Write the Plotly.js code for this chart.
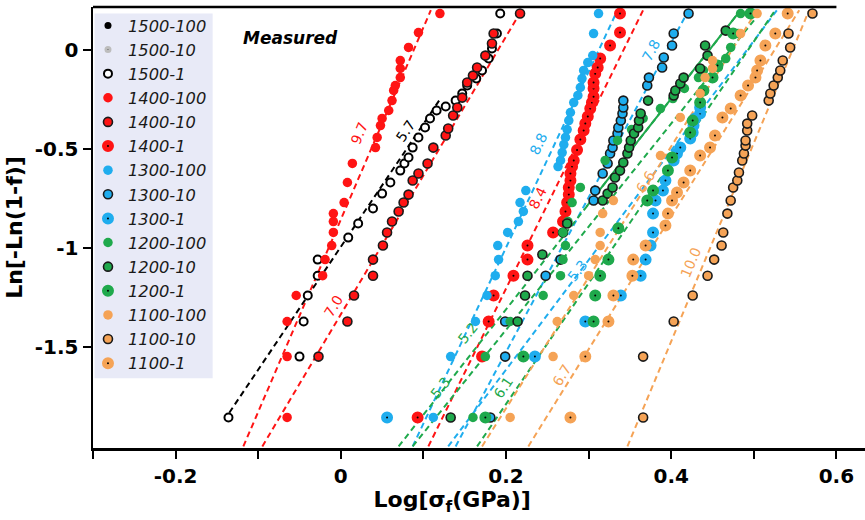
<!DOCTYPE html>
<html><head><meta charset="utf-8">
<script src="https://cdn.plot.ly/plotly-3.0.1.min.js"></script>
<style>body{margin:0;background:#fff}#chart{width:865px;height:520px}</style>
</head><body><div id="chart"></div>
<script>
// ---------------- data ----------------
const seriesNames = ['1500-100','1500-10','1500-1','1400-100','1400-10','1400-1','1300-100','1300-10','1300-1','1200-100','1200-10','1200-1','1100-100','1100-10','1100-1'];

// no visible points for these two series in the figure (legend entries only)
const x_1500_100 = [null];
const y_1500_100 = [null];
const x_1500_10 = [null];
const y_1500_10 = [null];
const x_1500_1 = [-0.136,-0.050,-0.045,-0.040,-0.028,-0.028,0.009,0.021,0.039,0.050,0.060,0.072,0.077,0.082,0.087,0.094,0.102,0.108,0.116,0.127,0.139,0.147,0.153,0.164,0.171,0.179,0.183,0.189,0.193];
const y_1500_1 = [-1.854,-1.547,-1.370,-1.239,-1.139,-1.058,-0.947,-0.876,-0.800,-0.725,-0.669,-0.609,-0.573,-0.543,-0.493,-0.442,-0.392,-0.346,-0.306,-0.286,-0.256,-0.220,-0.180,-0.145,-0.104,-0.044,0.007,0.082,0.183];
const x_1400_100 = [-0.065,-0.065,-0.065,-0.054,-0.022,-0.019,-0.011,-0.009,-0.009,-0.009,0.004,0.008,0.014,0.042,0.044,0.048,0.050,0.058,0.062,0.064,0.066,0.072,0.072,0.072,0.082,0.094,0.120];
const y_1400_100 = [-1.854,-1.547,-1.370,-1.239,-1.139,-1.058,-0.987,-0.921,-0.866,-0.826,-0.770,-0.669,-0.573,-0.493,-0.442,-0.382,-0.346,-0.306,-0.256,-0.205,-0.180,-0.140,-0.094,-0.054,0.012,0.087,0.183];
const x_1400_10 = [-0.027,0.008,0.016,0.039,0.039,0.051,0.056,0.062,0.070,0.076,0.082,0.087,0.094,0.105,0.112,0.127,0.130,0.136,0.141,0.147,0.153,0.160,0.165,0.175,0.183,0.185,0.217];
const y_1400_10 = [-1.547,-1.370,-1.239,-1.139,-1.058,-0.987,-0.921,-0.866,-0.815,-0.770,-0.730,-0.659,-0.624,-0.573,-0.493,-0.432,-0.397,-0.331,-0.291,-0.241,-0.165,-0.130,-0.089,-0.029,0.032,0.082,0.183];
const x_1400_1 = [0.093,0.171,0.179,0.185,0.209,0.226,0.226,0.257,0.269,0.272,0.274,0.276,0.276,0.278,0.278,0.280,0.282,0.286,0.290,0.294,0.296,0.299,0.302,0.304,0.306,0.306,0.306,0.308,0.311,0.314,0.326,0.338,0.338];
const y_1400_1 = [-1.854,-1.547,-1.370,-1.239,-1.139,-1.058,-0.987,-0.921,-0.866,-0.815,-0.770,-0.730,-0.694,-0.659,-0.624,-0.589,-0.558,-0.505,-0.452,-0.407,-0.372,-0.336,-0.296,-0.266,-0.236,-0.195,-0.165,-0.120,-0.089,-0.044,0.022,0.087,0.183];
const x_1300_100 = [0.112,0.133,0.163,0.177,0.187,0.191,0.190,0.202,0.215,0.221,0.217,0.224,0.263,0.266,0.268,0.270,0.272,0.274,0.276,0.278,0.282,0.287,0.290,0.292,0.294,0.299,0.305,0.306,0.312];
const y_1300_100 = [-1.854,-1.547,-1.370,-1.239,-1.139,-1.058,-0.987,-0.921,-0.866,-0.815,-0.770,-0.710,-0.589,-0.558,-0.518,-0.478,-0.442,-0.402,-0.357,-0.316,-0.266,-0.230,-0.190,-0.145,-0.104,-0.064,-0.029,0.082,0.183];
const x_1300_10 = [0.181,0.199,0.199,0.248,0.266,0.269,0.306,0.308,0.317,0.323,0.326,0.329,0.330,0.335,0.336,0.339,0.341,0.342,0.342,0.371,0.373,0.389,0.391,0.401,0.403,0.421];
const y_1300_10 = [-1.854,-1.547,-1.370,-1.139,-1.058,-0.921,-0.760,-0.710,-0.624,-0.573,-0.523,-0.493,-0.457,-0.422,-0.392,-0.357,-0.321,-0.291,-0.256,-0.180,-0.140,-0.089,-0.039,0.022,0.082,0.183];
const x_1300_1 = [0.056,0.235,0.296,0.339,0.363,0.369,0.375,0.378,0.378,0.381,0.390,0.393,0.403,0.407,0.411,0.423,0.426,0.427,0.429,0.435,0.435];
const y_1300_1 = [-1.854,-1.547,-1.370,-1.239,-1.139,-1.058,-0.987,-0.921,-0.826,-0.760,-0.710,-0.659,-0.558,-0.523,-0.493,-0.447,-0.417,-0.382,-0.346,-0.321,-0.291];
const x_1200_100 = [0.160,0.175,0.205,0.245,0.266,0.269,0.272,0.269,0.275,0.280,0.290,0.320,0.335,0.352,0.366,0.387,0.402,0.416,0.433,0.439,0.457,0.466,0.472,0.481,0.484];
const y_1200_100 = [-1.854,-1.547,-1.370,-1.239,-1.139,-1.058,-0.987,-0.921,-0.866,-0.770,-0.694,-0.558,-0.457,-0.402,-0.346,-0.296,-0.246,-0.195,-0.140,-0.104,-0.089,-0.044,0.012,0.082,0.183];
const x_1200_10 = [0.133,0.214,0.223,0.226,0.244,0.274,0.317,0.323,0.329,0.332,0.338,0.342,0.347,0.349,0.351,0.355,0.360,0.361,0.363,0.372,0.403,0.405,0.411,0.415,0.435,0.444,0.441,0.466];
const y_1200_10 = [-1.854,-1.370,-1.239,-1.139,-1.032,-0.876,-0.760,-0.725,-0.694,-0.644,-0.609,-0.568,-0.523,-0.493,-0.457,-0.422,-0.392,-0.357,-0.321,-0.256,-0.230,-0.205,-0.170,-0.140,-0.094,-0.029,0.022,0.097];
const x_1200_1 = [0.175,0.221,0.306,0.308,0.314,0.324,0.336,0.371,0.378,0.396,0.401,0.423,0.426,0.435,0.439,0.450,0.456,0.475,0.496];
const y_1200_1 = [-1.854,-1.547,-1.370,-1.239,-1.139,-1.058,-0.900,-0.760,-0.710,-0.609,-0.543,-0.417,-0.357,-0.266,-0.205,-0.140,-0.079,0.082,0.183];
const x_1100_100 = [0.205,0.257,0.262,0.282,0.300,0.308,0.314,0.314,0.317,0.330,0.387,0.411,0.435,0.441,0.450,0.450,0.484,0.504];
const y_1100_100 = [-1.854,-1.547,-1.370,-1.239,-1.139,-1.058,-0.987,-0.921,-0.826,-0.760,-0.533,-0.341,-0.220,-0.140,-0.094,-0.054,0.082,0.183];
const x_1100_10 = [0.366,0.366,0.403,0.426,0.444,0.452,0.461,0.463,0.468,0.472,0.475,0.480,0.482,0.486,0.488,0.490,0.490,0.492,0.492,0.498,0.518,0.520,0.524,0.529,0.532,0.535,0.544,0.542,0.571];
const y_1100_10 = [-1.854,-1.547,-1.370,-1.239,-1.139,-1.058,-0.987,-0.921,-0.826,-0.760,-0.694,-0.659,-0.619,-0.558,-0.523,-0.483,-0.457,-0.407,-0.372,-0.331,-0.256,-0.220,-0.180,-0.140,-0.104,-0.054,0.012,0.082,0.183];
const x_1100_1 = [0.278,0.296,0.324,0.330,0.353,0.354,0.369,0.393,0.396,0.401,0.407,0.415,0.423,0.435,0.447,0.453,0.462,0.472,0.484,0.493,0.502,0.504,0.508,0.514,0.526,0.541];
const y_1100_1 = [-1.854,-1.547,-1.370,-1.239,-1.139,-1.058,-0.987,-0.886,-0.826,-0.760,-0.720,-0.669,-0.609,-0.533,-0.493,-0.432,-0.341,-0.296,-0.230,-0.180,-0.140,-0.104,-0.054,0.022,0.082,0.183];

// Weibull fit lines: label (modulus), endpoints
const fitLabels = ['9.7','7.0','8.4','5.7','8.8','7.8','5.3','5.3','5.2','6.1','6.6','6.7','10.0'];
const fitX0 = [-0.118,-0.095,0.106,-0.135,0.087,0.139,0.130,0.070,0.087,0.165,0.171,0.227,0.347];
const fitY0 = [-2.0,-2.0,-2.0,-1.83,-2.0,-2.0,-2.0,-2.0,-2.0,-2.0,-2.0,-2.0,-2.0];
const fitX1 = [0.109,0.219,0.366,0.120,0.335,0.421,0.528,0.484,0.510,0.526,0.504,0.555,0.567];
const fitY1 = [0.2,0.2,0.2,-0.25,0.2,0.2,0.2,0.2,0.2,0.2,0.2,0.2,0.2];
// label anchor positions on the lines
const labelX = [0.0215,-0.009,0.238,0.078,0.239,0.375,0.286,0.120,0.154,0.196,0.369,0.268,0.423];
const labelY = [-0.422,-1.29,-0.745,-0.407,-0.473,-0.004,-1.113,-1.703,-1.43,-1.703,-0.669,-1.642,-1.073];

const xTickVals = [-0.2,0,0.2,0.4,0.6];
const xTickText = ['-0.2','0','0.2','0.4','0.6'];
const xMinorVals = [-0.3,-0.1,0.1,0.3,0.5];
const yTickVals = [0,-0.5,-1,-1.5];
const yTickText = ['0','-0.5','-1','-1.5'];

// ---------------- styles ----------------
const RED = '#ff1414', BLUE = '#1fadee', GREEN = '#1fa94c', ORANGE = '#f5a356', DARK = '#1a1a1a';
const seriesX = [x_1500_100,x_1500_10,x_1500_1,x_1400_100,x_1400_10,x_1400_1,x_1300_100,x_1300_10,x_1300_1,x_1200_100,x_1200_10,x_1200_1,x_1100_100,x_1100_10,x_1100_1];
const seriesY = [y_1500_100,y_1500_10,y_1500_1,y_1400_100,y_1400_10,y_1400_1,y_1300_100,y_1300_10,y_1300_1,y_1200_100,y_1200_10,y_1200_1,y_1100_100,y_1100_10,y_1100_1];
function markerFor(name){
  const t = name.split('-')[0], k = name.split('-')[1];
  if (t === '1500') {
    if (k === '100') return {color:'#000', size:7};
    if (k === '10') return {color:'#444', size:4, line:{color:'#bdbdbd', width:3}};
    return {color:'#fff', size:8, line:{color:'#000', width:2}};
  }
  const c = {'1400':RED,'1300':BLUE,'1200':GREEN,'1100':ORANGE}[t];
  if (k === '100') return {color:c, size:9.5, line:{width:0}};
  if (k === '10') return {color:c, size:9, line:{color:DARK, width:1.6}};
  return {color:'#000', size:7, line:{color:c, width:5}};
}
const fitColors = [RED,RED,RED,'#000',BLUE,BLUE,BLUE,GREEN,GREEN,GREEN,ORANGE,ORANGE,ORANGE];
const fitAngles = [-67,-59,-64,-56,-65,-62,-52,-52,-51,-56,-58,-58,-67];

const traces = [];
for (let i = 0; i < fitLabels.length; i++) {
  traces.push({x:[fitX0[i],fitX1[i]], y:[fitY0[i],fitY1[i]], mode:'lines', showlegend:false, hoverinfo:'skip',
    line:{color:fitColors[i], width:2, dash:'6px,4px'}});
}
// solid upper part of the green 5.3 fit
traces.push({x:[fitX0[7] + (fitX1[7]-fitX0[7])*0.55, fitX1[7]], y:[fitY0[7] + (fitY1[7]-fitY0[7])*0.55, fitY1[7]], mode:'lines', showlegend:false, hoverinfo:'skip', line:{color:GREEN, width:2}});

for (let i = 0; i < seriesNames.length; i++) {
  traces.push({x:seriesX[i], y:seriesY[i], name:seriesNames[i], mode:'markers', type:'scatter', marker:markerFor(seriesNames[i])});
}

const FONT = '"DejaVu Sans", sans-serif';
const annotations = fitLabels.map((t,i)=>({x:labelX[i], y:labelY[i], xref:'x', yref:'y', text:t, showarrow:false,
  textangle:fitAngles[i], font:{family:FONT, size:14, color:fitColors[i]}}));
annotations.push({x:-0.061, y:0.062, xref:'x', yref:'y', text:'Measured', showarrow:false,
  font:{family:FONT, size:17, color:'#000', weight:'bold', style:'italic'}});

const layout = {
  width:865, height:520,
  margin:{l:93, r:0, t:7, b:72},
  paper_bgcolor:'#fff', plot_bgcolor:'#fff',
  font:{family:FONT, color:'#000'},
  showlegend:true,
  legend:{x:-0.0065, y:0.997, xanchor:'left', yanchor:'top', bgcolor:'rgba(0,0,0,0)', borderwidth:0,
    font:{family:FONT, size:16.25, style:'italic', color:'#1a1a1a'}, tracegroupgap:0, itemclick:false, itemdoubleclick:false},
  xaxis:{range:[-0.3, 0.6346], showgrid:false, zeroline:false, showline:true, linewidth:2.5, linecolor:'#000',
    tickmode:'array', tickvals:xTickVals, ticktext:xTickText, ticks:'outside', ticklen:8, tickwidth:2, tickcolor:'#000',
    minor:{tickmode:'array', tickvals:xMinorVals, ticks:'outside', ticklen:8, tickwidth:2, tickcolor:'#000', showgrid:false},
    tickfont:{family:FONT, size:20, weight:'bold', color:'#000'},
    title:{text:'Log[σ<sub>f</sub>(GPa)]&nbsp;&nbsp;&nbsp;&nbsp;&nbsp;&nbsp;&nbsp;', font:{family:FONT, size:22, weight:'bold', color:'#000'}, standoff:4}},
  yaxis:{range:[-2.008, 0.216], showgrid:false, zeroline:false, showline:true, linewidth:2.5, linecolor:'#000',
    tickmode:'array', tickvals:yTickVals, ticktext:yTickText, ticks:'outside', ticklen:8, tickwidth:2, tickcolor:'#000',
    tickfont:{family:FONT, size:20, weight:'bold', color:'#000'},
    title:{text:'Ln[-Ln(1-f)]', font:{family:FONT, size:22, weight:'bold', color:'#000'}, standoff:6}},
  shapes:[
    {type:'rect', xref:'paper', yref:'paper', x0:0.002, x1:0.155, y0:0.158, y1:0.985, fillcolor:'#e8eaf7', line:{width:0}, layer:'below'},
    {type:'line', xref:'x', yref:'paper', x0:-0.3, x1:0.6, y0:1, y1:1, line:{color:'#000', width:2.5}}
  ],
  annotations: annotations
};
Plotly.newPlot('chart', traces, layout, {staticPlot:true, displayModeBar:false});
</script></body></html>
